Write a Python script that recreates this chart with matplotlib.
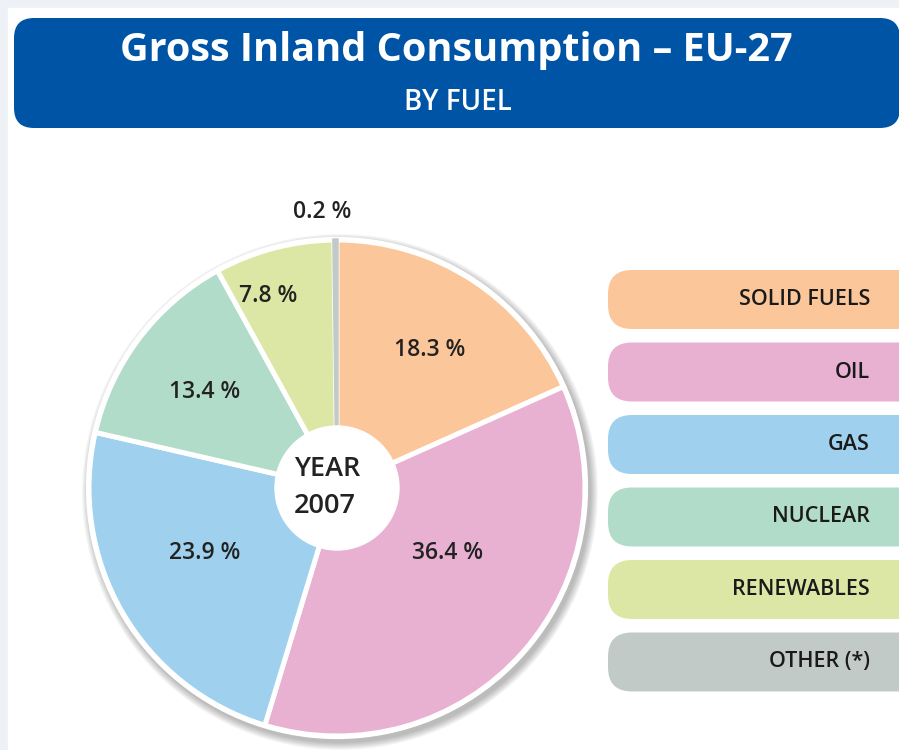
import numpy as np
import matplotlib
matplotlib.use("Agg")
import matplotlib.pyplot as plt
from matplotlib.patches import FancyBboxPatch, Circle, Rectangle

# data
fuels = ["SOLID FUELS", "OIL", "GAS", "NUCLEAR", "RENEWABLES", "OTHER (*)"]
shares = [18.3, 36.4, 23.9, 13.4, 7.8, 0.2]
colors = ["#fbc79a", "#e8b1d1", "#9fd1ef", "#b2dcca", "#dde7a5", "#c2cac8"]
year = "2007"

# label positions in pixels (x, y from top)
label_pos = [(430, 350), (448, 553), (205, 553), (205, 392), (268, 296), (322, 212)]

W, H = 899, 750
fig = plt.figure(figsize=(W / 100, H / 100), dpi=100)
fig.patch.set_facecolor("#eef2f6")
ax = fig.add_axes([0, 0, 1, 1])
ax.set_xlim(0, W)
ax.set_ylim(0, H)
ax.axis("off")

def Y(y):
    return H - y

font = ["Open Sans", "DejaVu Sans"]

# white panel
ax.add_patch(Rectangle((8, 0), W, Y(8), color="white", zorder=0))

# header
ax.add_patch(FancyBboxPatch((14 + 20, Y(128) + 20), 900 - 14 - 40, 110 - 40,
                            boxstyle="round,pad=20", fc="#0054a6", ec="none", zorder=1))
ax.text(456, Y(50), "Gross Inland Consumption \u2013 EU-27", color="white",
        fontsize=28.5, fontweight="bold", ha="center", va="center", family=font)
ax.text(458, Y(102), "BY FUEL", color="white", fontsize=20, fontweight="semibold",
        ha="center", va="center", family=font)

# pie
cx, cy, r = 337, Y(488), 248
for k in range(8):
    ax.add_patch(Circle((cx + 3, cy - 4), r + 3 + k, color="#000000", alpha=0.035, lw=0, zorder=1))
wedges, _ = ax.pie(shares, colors=colors, startangle=90, counterclock=False,
                   center=(cx, cy), radius=r, frame=True,
                   wedgeprops=dict(edgecolor="white", linewidth=3.6))
ax.add_patch(Circle((cx, cy), r + 1, fc="none", ec="white", lw=3, zorder=3))
wedges[-1].set_edgecolor(colors[-1])
wedges[-1].set_linewidth(2.5)
wedges[-1].set_zorder(4)
ax.add_patch(Circle((cx, cy), 62, color="white", zorder=5))
ax.set_xlim(0, W)
ax.set_ylim(0, H)
ax.set_aspect("equal")
ax.axis("off")

for v, (lx, ly) in zip(shares, label_pos):
    ax.text(lx, Y(ly), f"{v} %", fontsize=16.5, fontweight="semibold", ha="center", va="center",
            color="#222222", family=font, zorder=6)
ax.text(327, Y(469), "YEAR", fontsize=19.5, fontweight="semibold", ha="center", va="center",
        color="#222222", family=font, zorder=6)
ax.text(325, Y(506), year, fontsize=19.5, fontweight="semibold", ha="center", va="center",
        color="#222222", family=font, zorder=6)

# legend boxes
top0, step, bh = 270, 72.5, 59
for i, (name, c) in enumerate(zip(fuels, colors)):
    yt = top0 + i * step
    ax.add_patch(FancyBboxPatch((608 + 24, Y(yt + bh) + 24), 330 - 48, bh - 48,
                                boxstyle="round,pad=24", fc=c, ec="none", zorder=2))
    ax.text(870, Y(yt + bh / 2), name, fontsize=15.5, fontweight="semibold", ha="right",
            va="center", color="#1a1a1a", family=font, zorder=3)

fig.savefig("out.png", dpi=100, facecolor=fig.get_facecolor())
